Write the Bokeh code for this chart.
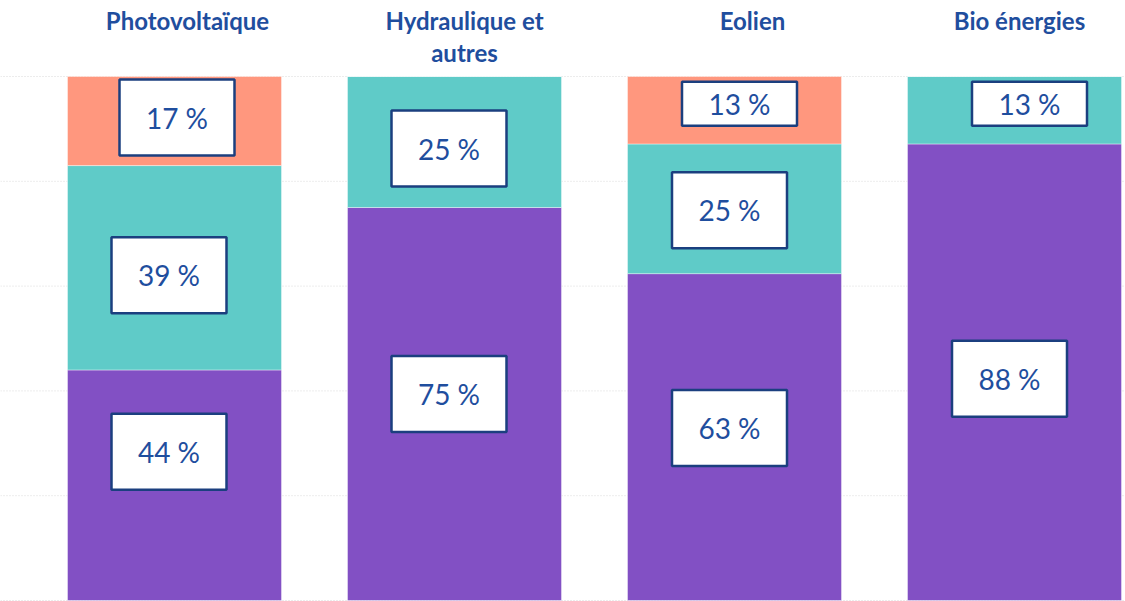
from bokeh.plotting import figure
from bokeh.models import Range1d, Span
from bokeh.core.properties import value
from bokeh.embed import file_html
from bokeh.resources import INLINE

# ---------------- data ----------------
categories = ["Photovoltaïque", "Hydraulique et\nautres", "Eolien", "Bio énergies"]
purple_vals = [44, 75, 63, 88]
teal_vals = [39, 25, 25, 13]
salmon_vals = [17, 0, 13, 0]
grid_ticks = [0, 20, 40, 60, 80, 100]

# ---------------- style / layout ----------------
series = [purple_vals, teal_vals, salmon_vals]
colors = ["#8250C4", "#5FCBC8", "#FF977E"]
TXT = "#1F4E9E"
BORDER = "#1B3F7F"
FONT = "Lato"

W, H = 1125, 601
PX_X = 280.0          # px per category
PX_Y = 5.24           # px per percent
x_start = -174 / PX_X
x_end = x_start + W / PX_X
y_end = 100 + 76 / PX_Y
y_start = -(H - 76 - 100 * PX_Y) / PX_Y

# manual label nudges (px): (dx right, dy up) per bar per series
LABEL_NUDGES = [
    [(-5.5, 33.5), (-5.5, -7.5), (2.5, 3.5)],
    [(-5.5, 10), (-5.5, -6.5), None],
    [(-5, 9), (-5, -1.5), (5, 6.5)],
    [(-5, -6.5), (15, 6.5), None],
]
TITLE_DX = [13, 10, 18, 5]

p = figure(width=W, height=H, x_range=Range1d(x_start, x_end), y_range=Range1d(y_start, y_end),
           x_axis_type=None, y_axis_type=None, toolbar_location=None, output_backend="svg",
           min_border=0, outline_line_color=None)
p.background_fill_color = "white"
p.border_fill_color = "white"

for t in grid_ticks:
    p.add_layout(Span(location=t, dimension="width", line_color="#d9d9d9", line_dash="1 2",
                      line_width=1, level="underlay"))

xs = list(range(len(categories)))
totals = [sum(s[i] for s in series) for i in xs]

bottoms = [0.0] * len(xs)
seg = []  # (bar, series, bottom, top, value)
for si, vals in enumerate(series):
    tops = [bottoms[i] + vals[i] / totals[i] * 100 for i in xs]
    p.vbar(x=xs, bottom=bottoms, top=tops, width=214 / PX_X, fill_color=colors[si],
           line_color="white", line_alpha=0.4, line_width=1)
    for i in xs:
        if vals[i] > 0:
            seg.append((i, si, bottoms[i], tops[i], vals[i]))
    bottoms = tops

bx, by, bh, bt = [], [], [], []
for (i, si, b, t, v) in seg:
    dx, dy = LABEL_NUDGES[i][si]
    seg_px = (t - b) * PX_Y
    h = 76 if seg_px > 80 else 44
    bx.append(i + dx / PX_X)
    by.append((b + t) / 2 + dy / PX_Y)
    bh.append(h)
    bt.append(f"{v} %")

p.rect(x=bx, y=by, width=115, height=bh, width_units="screen", height_units="screen",
       fill_color="white", line_color=BORDER, line_width=2.5)
p.text(x=bx, y=by, text=bt, text_align="center", text_baseline="middle",
       text_font=value(FONT), text_font_size="28px", text_color=TXT)

tx, ty, tt = [], [], []
for i, name in enumerate(categories):
    for li, line in enumerate(name.split("\n")):
        tx.append(i + TITLE_DX[i] / PX_X)
        ty.append(y_end - (20 + 32 * li) / PX_Y)
        tt.append(line)
p.text(x=tx, y=ty, text=tt, text_align="center", text_baseline="middle",
       text_font=value(FONT), text_font_size="24px", text_font_style="bold", text_color=TXT)

open("out.html", "w").write(file_html(p, INLINE))
